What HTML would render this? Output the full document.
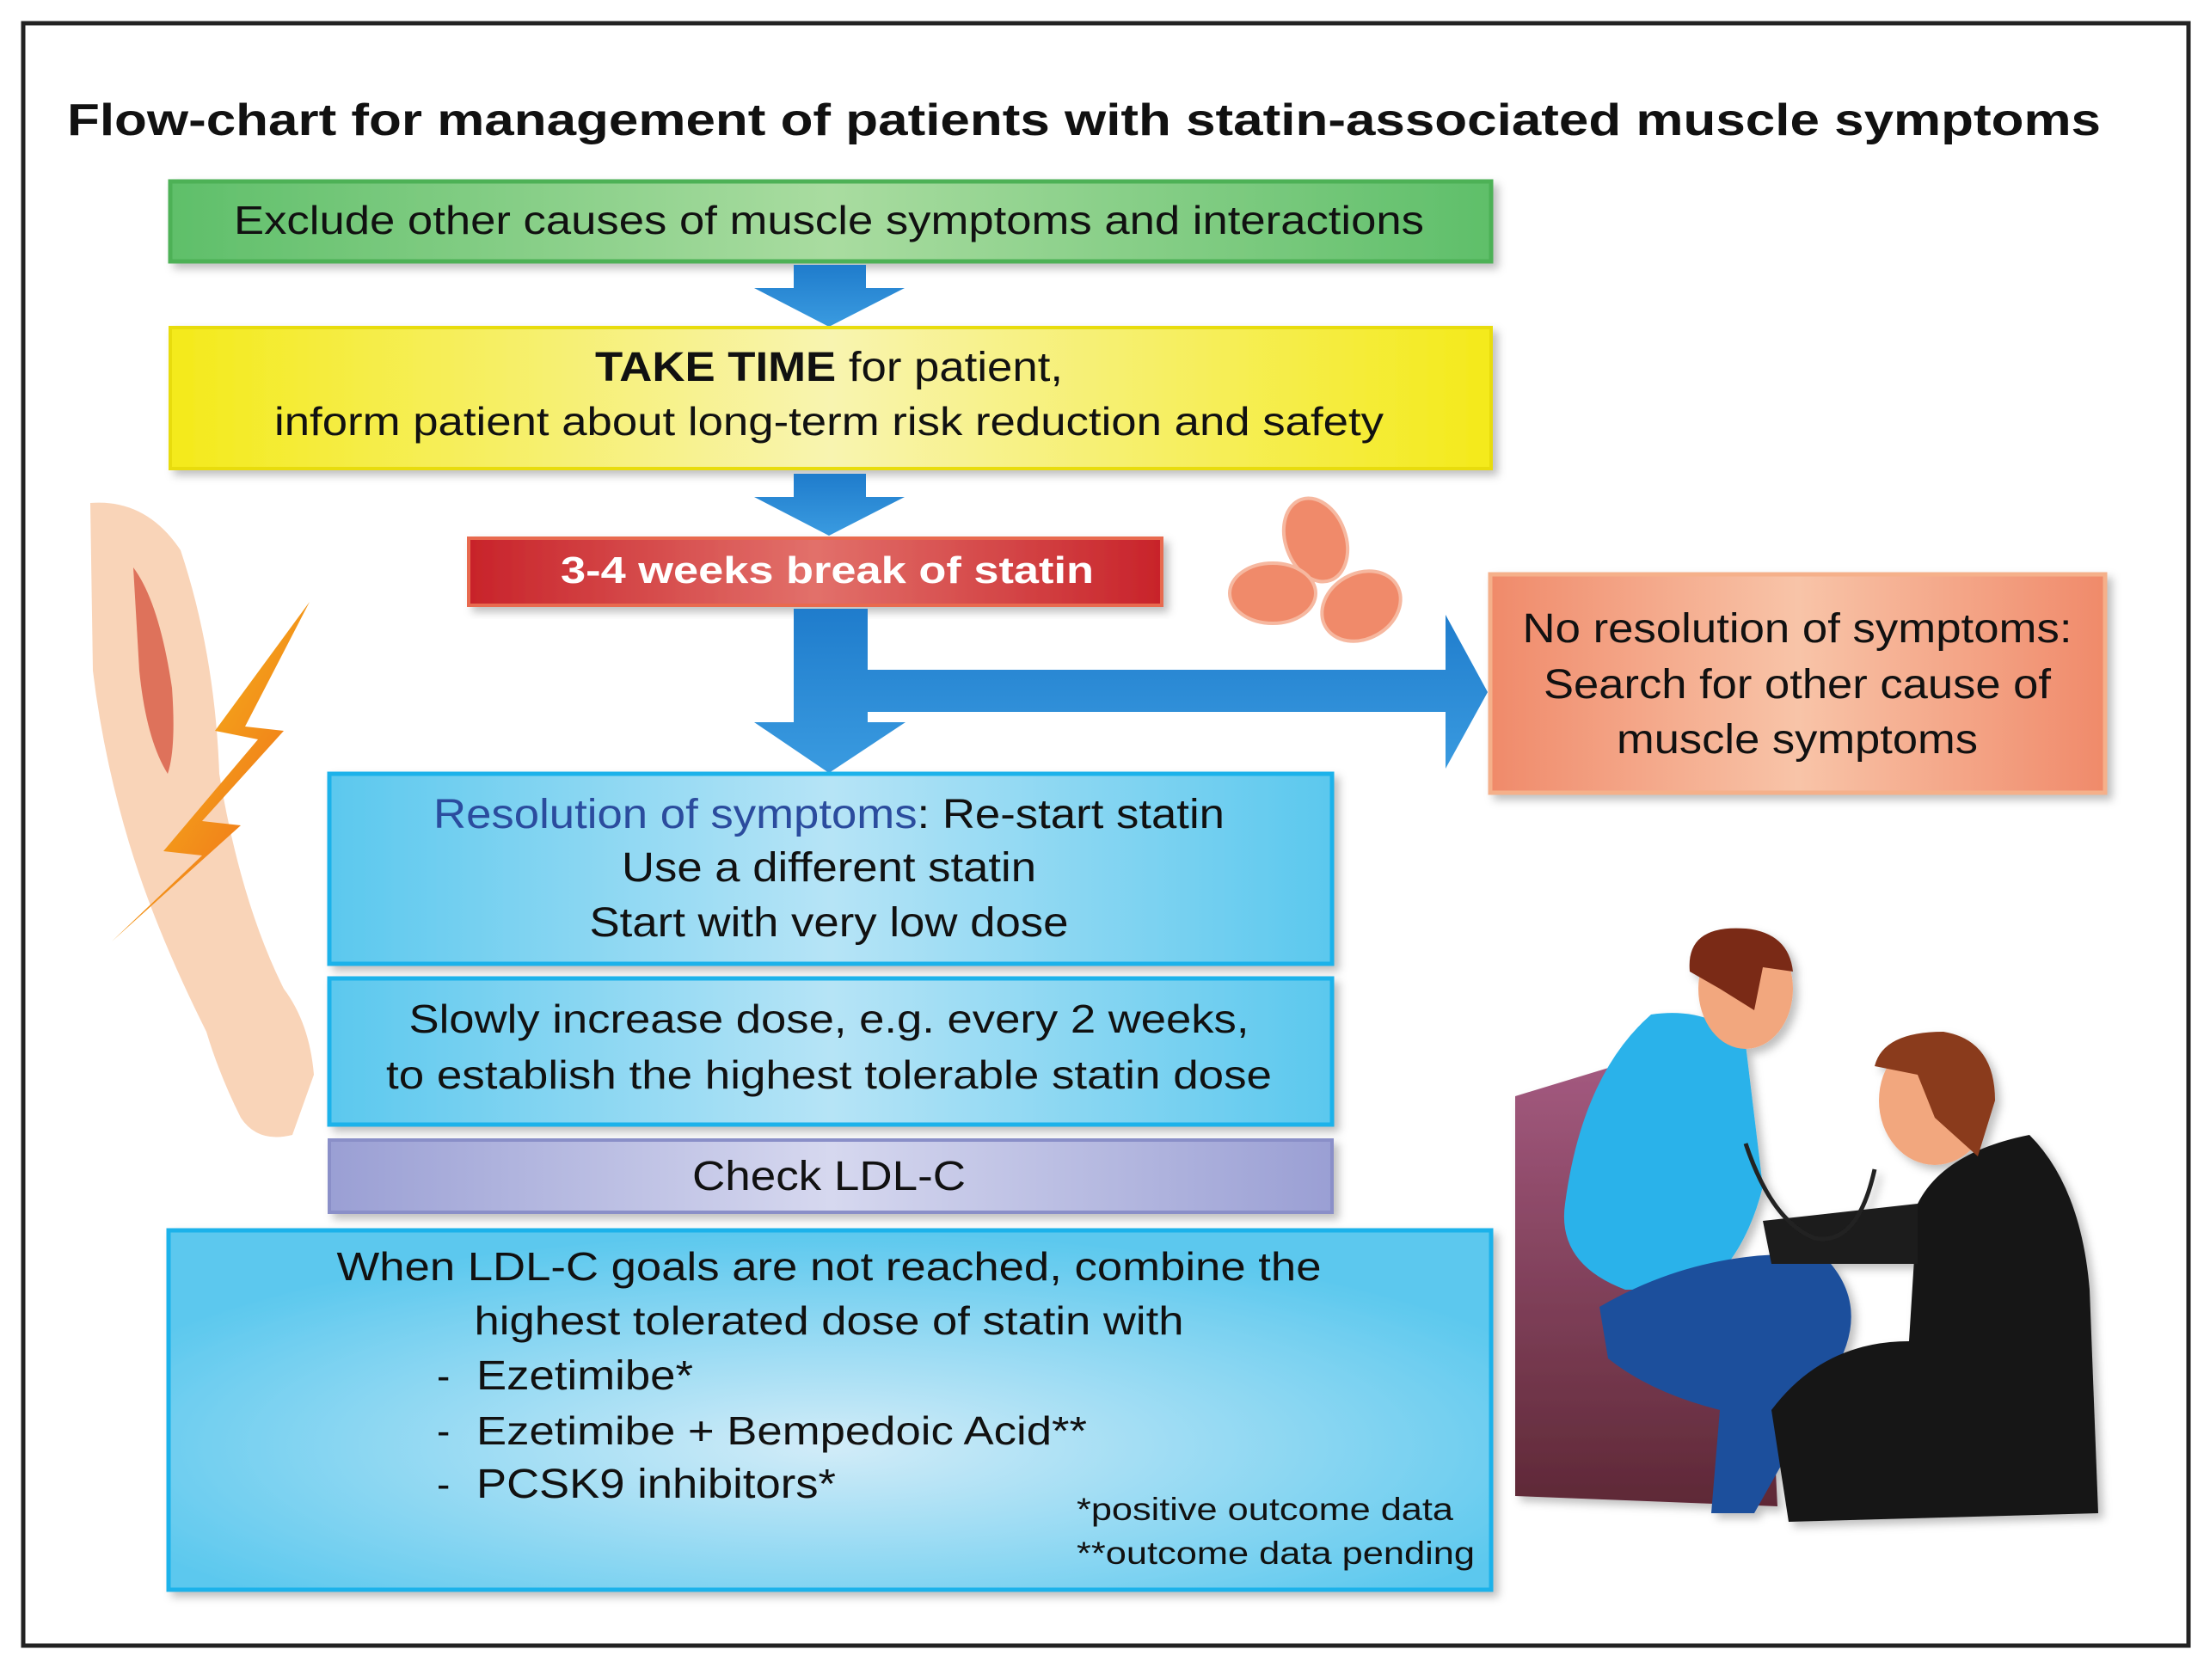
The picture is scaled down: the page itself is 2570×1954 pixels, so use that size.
<!DOCTYPE html>
<html><head><meta charset="utf-8"><style>
html,body{margin:0;padding:0;background:#fff}
svg{display:block}
text{font-family:"Liberation Sans",Arial,sans-serif}
</style></head><body>
<svg width="2570" height="1954" viewBox="0 0 2570 1954" xmlns="http://www.w3.org/2000/svg">
<defs>
<linearGradient id="gG" x1="0" y1="0" x2="1" y2="0"><stop offset="0" stop-color="#5fbf6a"/><stop offset="0.5" stop-color="#a9dca0"/><stop offset="1" stop-color="#5fbf6a"/></linearGradient>
<linearGradient id="gY" x1="0" y1="0" x2="1" y2="0"><stop offset="0" stop-color="#f4ea1a"/><stop offset="0.5" stop-color="#f8f4b0"/><stop offset="1" stop-color="#f4ea1a"/></linearGradient>
<linearGradient id="gR" x1="0" y1="0" x2="1" y2="0"><stop offset="0" stop-color="#c8232a"/><stop offset="0.5" stop-color="#e2706a"/><stop offset="1" stop-color="#c8232a"/></linearGradient>
<linearGradient id="gO" x1="0" y1="0" x2="1" y2="0"><stop offset="0" stop-color="#f08a6a"/><stop offset="0.5" stop-color="#f8c4a8"/><stop offset="1" stop-color="#f08a6a"/></linearGradient>
<linearGradient id="gB" x1="0" y1="0" x2="1" y2="0"><stop offset="0" stop-color="#5bc8ee"/><stop offset="0.5" stop-color="#b6e4f6"/><stop offset="1" stop-color="#5bc8ee"/></linearGradient>
<radialGradient id="gB2" cx="0.5" cy="0.6" r="0.6"><stop offset="0" stop-color="#d2ecf8"/><stop offset="1" stop-color="#5bc8ee"/></radialGradient>
<linearGradient id="gP" x1="0" y1="0" x2="1" y2="0"><stop offset="0" stop-color="#9a9fd4"/><stop offset="0.5" stop-color="#d6d8ef"/><stop offset="1" stop-color="#9a9fd4"/></linearGradient>
<linearGradient id="gA" x1="0" y1="0" x2="0" y2="1"><stop offset="0" stop-color="#1f7ccc"/><stop offset="1" stop-color="#3a9be0"/></linearGradient>
<linearGradient id="gL" x1="0" y1="0" x2="1" y2="1"><stop offset="0" stop-color="#f7d21a"/><stop offset="1" stop-color="#ef5a1a"/></linearGradient>
<linearGradient id="gC" x1="0" y1="0" x2="0" y2="1"><stop offset="0" stop-color="#a45a80"/><stop offset="1" stop-color="#5e2836"/></linearGradient>
<filter id="sh" x="-5%" y="-10%" width="115%" height="130%"><feDropShadow dx="6" dy="6" stdDeviation="5" flood-color="#000" flood-opacity="0.25"/></filter>
</defs>
<rect x="27" y="27" width="2518" height="1887" fill="#fff" stroke="#222" stroke-width="5"/>
<text x="78" y="157" font-size="52" font-weight="bold" fill="#111" textLength="2365" lengthAdjust="spacingAndGlyphs">Flow-chart for management of patients with statin-associated muscle symptoms</text>

<rect x="198" y="211" width="1536" height="93" fill="url(#gG)" stroke="#4db157" stroke-width="5" filter="url(#sh)"/>
<text x="964" y="272" font-size="46" text-anchor="middle" fill="#111" textLength="1384" lengthAdjust="spacingAndGlyphs">Exclude other causes of muscle symptoms and interactions</text>
<polygon points="923,308 1007,308 1007,335 1052,335 964,380 877,335 923,335" fill="url(#gA)"/>
<rect x="198" y="381" width="1536" height="164" fill="url(#gY)" stroke="#e8dc10" stroke-width="4" filter="url(#sh)"/>
<text x="964" y="443" font-size="48" text-anchor="middle" fill="#111" textLength="544" lengthAdjust="spacingAndGlyphs"><tspan font-weight="bold">TAKE TIME</tspan> for patient,</text>
<text x="964" y="506" font-size="46" text-anchor="middle" fill="#111" textLength="1290" lengthAdjust="spacingAndGlyphs">inform patient about long-term risk reduction and safety</text>
<polygon points="923,551 1007,551 1007,578 1052,578 964,623 877,578 923,578" fill="url(#gA)"/>
<rect x="545" y="626" width="806" height="78" fill="url(#gR)" stroke="#e86a50" stroke-width="4" filter="url(#sh)"/>
<text x="962" y="678" font-size="44" text-anchor="middle" fill="#fff" font-weight="bold" textLength="620" lengthAdjust="spacingAndGlyphs">3-4 weeks break of statin</text>
<polygon points="923,708 1009,708 1009,779 1681,779 1681,715 1730,805 1681,894 1681,828 1009,828 1009,840 1053,840 964,899 877,840 923,840" fill="url(#gA)"/>
<rect x="1733" y="668" width="715" height="254" fill="url(#gO)" stroke="#f5b08a" stroke-width="5" filter="url(#sh)"/>
<text x="2090" y="747" font-size="48" text-anchor="middle" fill="#111" textLength="639" lengthAdjust="spacingAndGlyphs">No resolution of symptoms:</text>
<text x="2090" y="812" font-size="48" text-anchor="middle" fill="#111" textLength="590" lengthAdjust="spacingAndGlyphs">Search for other cause of</text>
<text x="2090" y="876" font-size="48" text-anchor="middle" fill="#111" textLength="420" lengthAdjust="spacingAndGlyphs">muscle symptoms</text>
<rect x="383" y="900" width="1166" height="221" fill="url(#gB)" stroke="#1fb2ea" stroke-width="5" filter="url(#sh)"/>
<text x="964" y="963" font-size="48" text-anchor="middle" fill="#111" textLength="920" lengthAdjust="spacingAndGlyphs"><tspan fill="#2b4c9e">Resolution of symptoms</tspan>: Re-start statin</text>
<text x="964" y="1025" font-size="48" text-anchor="middle" fill="#111" textLength="482" lengthAdjust="spacingAndGlyphs">Use a different statin</text>
<text x="964" y="1089" font-size="48" text-anchor="middle" fill="#111" textLength="557" lengthAdjust="spacingAndGlyphs">Start with very low dose</text>
<rect x="383" y="1138" width="1166" height="170" fill="url(#gB)" stroke="#1fb2ea" stroke-width="5" filter="url(#sh)"/>
<text x="964" y="1201" font-size="46" text-anchor="middle" fill="#111" textLength="977" lengthAdjust="spacingAndGlyphs">Slowly increase dose, e.g. every 2 weeks,</text>
<text x="964" y="1266" font-size="46" text-anchor="middle" fill="#111" textLength="1030" lengthAdjust="spacingAndGlyphs">to establish the highest tolerable statin dose</text>
<rect x="383" y="1326" width="1166" height="84" fill="url(#gP)" stroke="#8a8fc8" stroke-width="4" filter="url(#sh)"/>
<text x="964" y="1384" font-size="48" text-anchor="middle" fill="#111" textLength="318" lengthAdjust="spacingAndGlyphs">Check LDL-C</text>
<rect x="196" y="1431" width="1538" height="418" fill="url(#gB2)" stroke="#1fb2ea" stroke-width="5" filter="url(#sh)"/>
<text x="964" y="1489" font-size="46" text-anchor="middle" fill="#111" textLength="1145" lengthAdjust="spacingAndGlyphs">When LDL-C goals are not reached, combine the</text>
<text x="964" y="1552" font-size="46" text-anchor="middle" fill="#111" textLength="825" lengthAdjust="spacingAndGlyphs">highest tolerated dose of statin with</text>
<text x="508" y="1616" font-size="46" fill="#111">-</text><text x="554" y="1616" font-size="48" fill="#111" textLength="252" lengthAdjust="spacingAndGlyphs">Ezetimibe*</text>
<text x="508" y="1680" font-size="46" fill="#111">-</text><text x="554" y="1680" font-size="46" fill="#111" textLength="710" lengthAdjust="spacingAndGlyphs">Ezetimibe + Bempedoic Acid**</text>
<text x="508" y="1742" font-size="46" fill="#111">-</text><text x="554" y="1742" font-size="48" fill="#111" textLength="418" lengthAdjust="spacingAndGlyphs">PCSK9 inhibitors*</text>
<text x="1252" y="1768" font-size="37" fill="#111" textLength="438" lengthAdjust="spacingAndGlyphs">*positive outcome data</text>
<text x="1252" y="1819" font-size="37" fill="#111" textLength="463" lengthAdjust="spacingAndGlyphs">**outcome data pending</text>

<path d="M105,585 Q170,580 210,640 Q250,760 255,900 Q280,1050 330,1150 Q360,1190 365,1250 L340,1320 Q300,1330 280,1300 Q255,1250 240,1200 Q180,1080 150,980 Q120,880 108,780 Z" fill="#f9d4b8"/>
<path d="M155,660 Q185,700 200,800 Q205,870 195,900 Q170,860 162,780 Z" fill="#d9604a" opacity="0.85"/>
<polygon points="360,700 250,850 300,860 190,990 235,995 130,1095 280,960 235,955 330,850 285,845" fill="url(#gL)"/>
<ellipse cx="1530" cy="628" rx="35" ry="50" transform="rotate(-20 1530 628)" fill="#f08a6a" stroke="#f6b8a0" stroke-width="4"/>
<ellipse cx="1480" cy="690" rx="50" ry="35" fill="#f08a6a" stroke="#f6b8a0" stroke-width="4"/>
<ellipse cx="1583" cy="705" rx="48" ry="38" transform="rotate(-30 1583 705)" fill="#f08a6a" stroke="#f6b8a0" stroke-width="4"/>
<g filter="url(#sh)">
<polygon points="1762,1275 1900,1233 1900,1600 2060,1610 2067,1752 1762,1740" fill="url(#gC)"/>
<path d="M1920,1180 Q1990,1170 2030,1215 L2050,1380 Q2030,1460 1980,1500 L1890,1500 Q1810,1470 1820,1400 Q1840,1250 1920,1180 Z" fill="#2ab2ea"/>
<path d="M1860,1520 Q1980,1450 2120,1460 Q2180,1520 2130,1600 L2040,1760 L1990,1760 L2000,1640 Q1920,1620 1870,1580 Z" fill="#1e4f9c"/>
<ellipse cx="2030" cy="1150" rx="55" ry="70" fill="#f2a77e"/>
<path d="M1965,1130 Q1960,1075 2030,1080 Q2080,1085 2085,1130 L2050,1125 L2040,1175 L2000,1150 Z" fill="#7a2a14"/>
<path d="M2060,1640 Q2120,1560 2220,1560 L2230,1400 Q2260,1340 2360,1320 Q2420,1380 2430,1500 L2440,1760 L2080,1770 Z" fill="#151515"/>
<path d="M2050,1420 L2230,1400 L2230,1470 L2060,1470 Z" fill="#1a1a1a"/>
<ellipse cx="2250" cy="1280" rx="65" ry="75" fill="#f2a77e"/>
<path d="M2180,1240 Q2190,1200 2260,1200 Q2320,1210 2320,1280 L2300,1345 L2250,1300 L2230,1250 Z" fill="#8a3a1a"/>
<path d="M2030,1330 Q2060,1420 2110,1440 Q2160,1450 2180,1360" fill="none" stroke="#222" stroke-width="5"/>
</g>
</svg>
</body></html>
